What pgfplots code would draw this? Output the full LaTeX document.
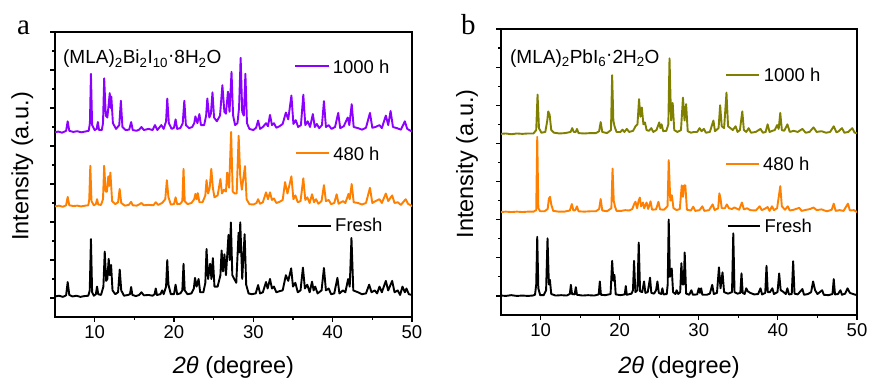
\documentclass[border=0pt]{standalone}
\usepackage{fontspec}
\setmainfont{Liberation Sans}
\newfontfamily\seriffont{Liberation Serif}
\usepackage{pgfplots}
\pgfplotsset{compat=1.18}
\definecolor{cpurple}{RGB}{140,0,255}
\definecolor{corange}{RGB}{255,128,0}
\definecolor{colive}{RGB}{128,128,0}
\newcommand\fs[1]{\fontsize{#1}{#1}\selectfont}
\pgfplotsset{
  xrdaxis/.style={
    scale only axis,
    xmin=5, xmax=50, ymin=-0.5, ymax=7,
    xtick={10,20,30,40,50}, minor x tick num=1,
    ytick={0,1,2,3,4,5,6,7}, minor y tick num=1, yticklabels={},
    tick pos=left, tick align=outside,
    major tick length=5pt, minor tick length=3pt,
    axis line style={line width=1.2pt},
    every tick/.style={black, line width=1.2pt},
    /pgf/number format/assume math mode=true,
    ticklabel style={font=\fs{18.5}},
    label style={font=\fs{23.5}},
    xlabel={{\itshape 2θ} (degree)},
    ylabel={Intensity (a.u.)},
  },
}
\tikzset{
  spec/.style={line width=1.9pt, line join=round, line cap=round},
  leg/.style={line width=2pt},
}
\begin{document}
\begin{tikzpicture}
\useasboundingbox (0pt,0pt) rectangle (869pt,379pt);
% ---------------- panel a ----------------
\begin{axis}[xrdaxis, at={(55pt,62pt)}, anchor=south west, width=357pt, height=285pt,
  xlabel style={at={(axis description cs:0.5,-0.198)}, anchor=base},
  ylabel style={at={(axis description cs:-0.0748,0.528)}, anchor=base}]
% Fresh
\addplot[black, spec] coordinates {(5,0.04) (5.5,0.06) (6.0,0.03) (6.4,0.07) (6.6,0.42) (6.8,0.08) (7.2,0.04) (7.7,0.06) (8.2,0.03) (8.7,0.05) (9.2,0.06) (9.38,0.2) (9.53,1.55) (9.68,0.15) (9.9,0.06) (10.15,0.1) (10.3,0.3) (10.45,0.1) (10.8,0.08) (11.1,0.3) (11.27,1.22) (11.45,0.45) (11.6,0.5) (11.77,1.03) (11.92,0.6) (12.07,0.87) (12.25,0.2) (12.6,0.1) (12.95,0.15) (13.16,0.75) (13.35,0.2) (13.7,0.06) (14.2,0.08) (14.45,0.1) (14.6,0.29) (14.75,0.08) (15.2,0.05) (15.6,0.08) (15.9,0.15) (16.2,0.07) (16.8,0.08) (17.3,0.06) (17.55,0.1) (17.7,0.25) (17.85,0.08) (18.3,0.1) (18.5,0.2) (18.7,0.1) (19.0,0.3) (19.15,1.0) (19.3,0.35) (19.6,0.1) (20.0,0.1) (20.2,0.35) (20.4,0.1) (20.8,0.12) (21.05,0.2) (21.2,0.9) (21.35,0.2) (21.7,0.1) (22.2,0.12) (22.5,0.25) (22.65,0.53) (22.85,0.3) (23.1,0.5) (23.3,0.15) (23.7,0.15) (23.95,0.4) (24.1,1.29) (24.3,0.5) (24.56,0.9) (24.72,0.5) (24.9,1.05) (25.1,0.3) (25.5,0.3) (25.85,0.6) (26.0,1.25) (26.18,0.7) (26.36,1.15) (26.55,0.6) (26.87,1.66) (27.02,1.0) (27.17,1.99) (27.35,0.6) (27.6,0.5) (27.85,0.4) (28.14,1.72) (28.25,1.2) (28.35,1.99) (28.6,0.5) (28.9,1.68) (29.1,0.35) (29.4,0.12) (29.8,0.1) (30.3,0.12) (30.6,0.34) (30.85,0.12) (31.2,0.15) (31.6,0.42) (31.8,0.25) (32.1,0.5) (32.35,0.25) (32.6,0.3) (32.9,0.15) (33.3,0.18) (33.7,0.2) (34.1,0.6) (34.4,0.45) (34.77,0.78) (35.0,0.3) (35.3,0.4) (35.6,0.15) (35.95,0.2) (36.25,0.8) (36.5,0.25) (36.8,0.35) (37.1,0.15) (37.4,0.43) (37.6,0.2) (37.8,0.3) (38.1,0.12) (38.6,0.2) (38.9,0.79) (39.15,0.2) (39.5,0.25) (39.8,0.1) (40.2,0.12) (40.6,0.53) (40.85,0.12) (41.3,0.2) (41.6,0.15) (41.95,0.5) (42.15,0.3) (42.37,1.58) (42.6,0.2) (43.2,0.15) (43.7,0.1) (44.2,0.12) (44.6,0.35) (44.9,0.15) (45.3,0.2) (45.6,0.12) (45.9,0.3) (46.2,0.15) (46.7,0.45) (47.0,0.2) (47.5,0.45) (47.8,0.15) (48.2,0.2) (48.5,0.08) (48.8,0.3) (49.1,0.15) (49.3,0.25) (49.6,0.1) (50,0.08)};
% 480 h
\addplot[corange, spec] coordinates {(5,2.41) (5.5,2.43) (6.0,2.4) (6.4,2.44) (6.6,2.66) (6.8,2.44) (7.3,2.42) (7.8,2.43) (8.3,2.41) (8.8,2.43) (9.2,2.44) (9.32,2.6) (9.45,3.48) (9.6,2.55) (9.9,2.44) (10.15,2.47) (10.3,2.6) (10.45,2.46) (10.8,2.45) (11.05,2.6) (11.2,3.48) (11.38,2.8) (11.55,2.8) (11.72,3.2) (11.85,2.95) (11.98,3.3) (12.2,2.55) (12.6,2.47) (12.95,2.52) (13.15,2.87) (13.35,2.5) (13.8,2.43) (14.3,2.45) (14.6,2.53) (14.8,2.44) (15.3,2.43) (15.6,2.46) (15.9,2.5) (16.2,2.44) (16.8,2.45) (17.4,2.44) (17.7,2.52) (18.0,2.45) (18.5,2.5) (18.9,2.6) (19.1,3.1) (19.3,2.65) (19.6,2.46) (20.0,2.47) (20.2,2.65) (20.4,2.47) (20.8,2.48) (21.05,2.55) (21.2,3.4) (21.35,2.55) (21.7,2.47) (22.2,2.5) (22.55,2.6) (22.7,2.74) (22.85,2.6) (23.0,2.76) (23.2,2.52) (23.6,2.52) (23.95,2.7) (24.1,3.1) (24.3,2.75) (24.5,2.9) (24.7,3.4) (24.9,2.9) (25.1,2.65) (25.5,2.7) (25.85,3.13) (26.05,2.75) (26.3,2.85) (26.55,2.8) (26.7,3.3) (26.95,2.9) (27.2,4.37) (27.4,2.8) (27.65,2.75) (27.9,2.75) (28.15,4.27) (28.35,3.2) (28.55,2.85) (28.95,3.47) (29.15,2.6) (29.5,2.47) (30.0,2.46) (30.4,2.5) (30.6,2.6) (30.85,2.48) (31.2,2.52) (31.6,2.78) (31.85,2.6) (32.1,2.78) (32.35,2.58) (32.6,2.62) (32.9,2.5) (33.3,2.53) (33.7,2.58) (34.0,3.05) (34.3,2.75) (34.8,3.2) (35.05,2.6) (35.3,2.7) (35.6,2.52) (35.95,2.55) (36.3,3.15) (36.55,2.58) (36.8,2.65) (37.1,2.5) (37.4,2.73) (37.65,2.52) (37.9,2.6) (38.2,2.48) (38.6,2.55) (38.9,2.97) (39.15,2.55) (39.5,2.58) (39.8,2.47) (40.2,2.5) (40.5,2.73) (40.75,2.48) (41.3,2.55) (41.6,2.5) (42.0,2.74) (42.15,2.6) (42.4,3.0) (42.65,2.52) (43.2,2.5) (43.7,2.46) (44.2,2.5) (44.7,2.9) (45.0,2.5) (45.4,2.55) (45.9,2.6) (46.2,2.5) (46.7,2.75) (47.0,2.55) (47.5,2.7) (47.8,2.5) (48.2,2.52) (48.6,2.45) (49.2,2.6) (49.5,2.48) (50,2.42)};
% 1000 h
\addplot[cpurple, spec] coordinates {(5,4.36) (5.4,4.38) (5.9,4.35) (6.4,4.4) (6.6,4.65) (6.8,4.4) (7.3,4.37) (7.8,4.39) (8.3,4.36) (8.8,4.38) (9.25,4.4) (9.4,4.6) (9.53,5.9) (9.68,4.55) (10.0,4.42) (10.25,4.45) (10.4,4.63) (10.55,4.42) (10.9,4.42) (11.05,4.6) (11.2,5.78) (11.4,4.8) (11.6,4.75) (11.9,5.39) (12.0,5.0) (12.1,5.3) (12.3,4.6) (12.7,4.45) (13.1,4.55) (13.3,5.19) (13.5,4.5) (13.9,4.42) (14.35,4.43) (14.6,4.63) (14.8,4.42) (15.3,4.4) (15.6,4.43) (15.9,4.5) (16.2,4.42) (16.8,4.45) (17.3,4.42) (17.6,4.55) (17.9,4.42) (18.4,4.55) (18.7,4.45) (19.0,4.65) (19.15,5.25) (19.35,4.6) (19.7,4.45) (20.0,4.48) (20.2,4.7) (20.4,4.45) (20.8,4.47) (21.1,4.6) (21.3,5.19) (21.5,4.55) (21.9,4.47) (22.3,4.5) (22.55,4.6) (22.7,4.78) (22.95,4.6) (23.2,4.84) (23.4,4.55) (23.8,4.55) (24.05,4.8) (24.2,5.25) (24.45,4.75) (24.65,4.85) (24.85,5.41) (25.05,4.75) (25.4,4.65) (25.8,4.8) (26.1,5.6) (26.35,4.9) (26.55,4.85) (26.8,5.43) (27.0,4.9) (27.25,5.95) (27.45,4.8) (27.7,4.55) (28.0,4.6) (28.2,5.0) (28.4,6.32) (28.6,4.9) (28.8,4.8) (29.0,5.9) (29.2,4.6) (29.5,4.45) (30.0,4.42) (30.35,4.48) (30.6,4.67) (30.85,4.45) (31.2,4.5) (31.6,4.6) (31.85,4.52) (32.1,4.82) (32.35,4.55) (32.6,4.6) (32.9,4.48) (33.3,4.52) (33.7,4.58) (34.1,4.88) (34.4,4.7) (34.8,5.33) (35.05,4.58) (35.35,4.68) (35.65,4.5) (36.0,4.55) (36.3,5.35) (36.55,4.55) (36.85,4.65) (37.15,4.5) (37.5,4.84) (37.75,4.5) (38.0,4.58) (38.3,4.47) (38.65,4.55) (38.9,5.18) (39.15,4.5) (39.5,4.55) (39.85,4.45) (40.3,4.5) (40.7,4.87) (40.95,4.47) (41.4,4.52) (41.9,4.75) (42.1,4.55) (42.4,5.1) (42.65,4.5) (43.2,4.47) (43.7,4.43) (44.2,4.48) (44.7,4.87) (45.0,4.48) (45.4,4.5) (45.9,4.55) (46.2,4.47) (46.7,4.8) (47.0,4.55) (47.3,4.92) (47.6,4.5) (48.1,4.47) (48.6,4.43) (49.1,4.65) (49.4,4.45) (50,4.38)};
\draw[cpurple, leg] (axis cs:35.3,6.11) -- (axis cs:39.5,6.11);
\node[anchor=base west, inner sep=0pt, font=\fs{18.5}] at (axis cs:40.0,5.9) {1000 h};
\draw[corange, leg] (axis cs:35.4,3.82) -- (axis cs:39.6,3.82);
\node[anchor=base west, inner sep=0pt, font=\fs{18.5}] at (axis cs:40.05,3.61) {480 h};
\draw[black, leg] (axis cs:35.65,1.9) -- (axis cs:39.75,1.9);
\node[anchor=base west, inner sep=0pt, font=\fs{18.5}] at (axis cs:40.3,1.74) {Fresh};
\node[anchor=base west, inner sep=0pt, font=\fs{19}] at (axis cs:6.0,6.16) {(MLA)\textsubscript{2}Bi\textsubscript{2}I\textsubscript{10}\raisebox{0.25ex}{·}8H\textsubscript{2}O};
\end{axis}
% ---------------- panel b ----------------
\begin{axis}[xrdaxis, at={(501pt,64pt)}, anchor=south west, width=356pt, height=286pt,
  xlabel style={at={(axis description cs:0.5,-0.204)}, anchor=base},
  ylabel style={at={(axis description cs:-0.078,0.528)}, anchor=base}]
% Fresh
\addplot[black, spec] coordinates {(5,0.01) (5.6,0.0) (6.3,0.02) (7.0,0.0) (7.7,0.01) (8.4,0.0) (9.0,0.01) (9.3,0.03) (9.45,0.3) (9.58,1.55) (9.72,0.2) (9.95,0.02) (10.4,0.02) (10.7,0.15) (10.88,1.51) (11.05,0.3) (11.18,0.42) (11.35,0.05) (11.9,0.01) (12.6,0.02) (13.3,0.01) (13.7,0.05) (13.83,0.29) (13.98,0.05) (14.3,0.04) (14.46,0.23) (14.6,0.03) (15.3,0.01) (16.0,0.02) (16.8,0.01) (17.35,0.04) (17.49,0.38) (17.63,0.03) (18.2,0.02) (18.85,0.05) (19.05,0.92) (19.2,0.4) (19.34,0.55) (19.5,0.04) (20.1,0.02) (20.65,0.04) (20.77,0.26) (20.9,0.03) (21.5,0.06) (21.68,0.15) (21.82,0.92) (21.98,0.1) (22.25,0.15) (22.41,1.4) (22.58,0.12) (22.85,0.1) (23.08,0.38) (23.25,0.08) (23.55,0.1) (23.84,0.48) (24.0,0.08) (24.35,0.06) (24.6,0.15) (24.77,0.38) (24.95,0.08) (25.25,0.05) (25.4,0.2) (25.55,0.04) (25.95,0.05) (26.07,0.3) (26.2,2.0) (26.35,0.5) (26.58,0.72) (26.75,0.1) (27.05,0.05) (27.2,0.15) (27.4,0.05) (27.65,0.1) (27.8,0.86) (27.95,0.3) (28.1,0.3) (28.22,1.14) (28.4,0.06) (28.8,0.03) (29.06,0.15) (29.25,0.03) (29.8,0.04) (30.0,0.2) (30.15,0.08) (30.3,0.2) (30.45,0.03) (31.0,0.03) (31.4,0.06) (31.7,0.29) (31.9,0.05) (32.3,0.08) (32.55,0.75) (32.75,0.2) (33.0,0.62) (33.2,0.1) (33.7,0.06) (34.2,0.1) (34.36,1.64) (34.52,0.1) (34.9,0.06) (35.25,0.08) (35.4,0.59) (35.55,0.08) (35.8,0.05) (36.0,0.2) (36.2,0.12) (36.5,0.08) (37.0,0.04) (37.5,0.05) (37.8,0.2) (38.0,0.04) (38.4,0.08) (38.56,0.79) (38.72,0.1) (39.0,0.1) (39.3,0.2) (39.5,0.05) (39.95,0.1) (40.16,0.59) (40.35,0.15) (40.6,0.12) (41.0,0.05) (41.2,0.2) (41.4,0.04) (41.75,0.05) (41.93,0.91) (42.1,0.06) (42.5,0.04) (43.1,0.18) (43.3,0.03) (43.8,0.05) (44.2,0.1) (44.45,0.38) (44.7,0.15) (45.0,0.05) (45.6,0.15) (45.8,0.03) (46.4,0.02) (46.9,0.05) (47.06,0.44) (47.22,0.04) (47.6,0.05) (47.9,0.15) (48.1,0.03) (48.5,0.06) (48.8,0.2) (49.1,0.08) (49.5,0.05) (50,0.02)};
% 480 h
\addplot[corange, spec] coordinates {(5,2.2) (5.6,2.21) (6.3,2.2) (7.0,2.21) (7.7,2.2) (8.4,2.21) (9.1,2.21) (9.45,2.25) (9.58,4.17) (9.72,2.3) (9.95,2.22) (10.5,2.22) (10.9,2.28) (11.05,2.55) (11.2,2.6) (11.35,2.4) (11.6,2.23) (12.3,2.21) (13.0,2.21) (13.7,2.24) (13.95,2.41) (14.15,2.24) (14.4,2.25) (14.6,2.35) (14.8,2.22) (15.5,2.21) (16.3,2.22) (17.0,2.22) (17.4,2.28) (17.6,2.54) (17.8,2.24) (18.4,2.22) (18.95,2.3) (19.1,3.34) (19.25,2.5) (19.4,2.35) (19.6,2.23) (20.2,2.23) (20.7,2.25) (21.2,2.24) (21.6,2.28) (21.85,2.42) (22.0,2.47) (22.2,2.3) (22.4,2.5) (22.55,2.58) (22.7,2.35) (22.95,2.45) (23.1,2.3) (23.4,2.45) (23.6,2.28) (23.9,2.48) (24.1,2.26) (24.6,2.27) (24.9,2.47) (25.1,2.27) (25.6,2.26) (26.05,2.35) (26.2,3.56) (26.4,2.5) (26.6,2.64) (26.8,2.3) (27.2,2.25) (27.6,2.28) (27.85,2.9) (28.0,2.6) (28.15,2.9) (28.3,2.9) (28.5,2.26) (29.0,2.24) (29.3,2.34) (29.55,2.23) (30.1,2.25) (30.45,2.35) (30.7,2.23) (31.3,2.25) (31.75,2.4) (32.0,2.25) (32.45,2.3) (32.6,2.69) (32.75,2.55) (32.9,2.3) (33.3,2.3) (33.55,2.4) (33.8,2.3) (34.2,2.28) (34.5,2.32) (35.1,2.26) (35.45,2.45) (35.7,2.27) (36.1,2.3) (36.5,2.25) (37.2,2.24) (37.7,2.35) (37.95,2.25) (38.3,2.28) (38.7,2.33) (38.95,2.23) (39.25,2.35) (39.5,2.25) (39.9,2.3) (40.3,2.88) (40.5,2.35) (40.9,2.26) (41.25,2.35) (41.5,2.24) (42.0,2.26) (42.7,2.31) (43.0,2.23) (43.6,2.26) (44.1,2.28) (44.5,2.32) (44.9,2.25) (45.5,2.27) (46.2,2.22) (46.8,2.26) (47.06,2.42) (47.3,2.23) (47.8,2.25) (48.3,2.23) (48.85,2.42) (49.1,2.24) (49.6,2.25) (50,2.2)};
% 1000 h
\addplot[colive, spec] coordinates {(5,4.25) (5.6,4.26) (6.3,4.24) (7.0,4.26) (7.7,4.25) (8.4,4.26) (9.1,4.26) (9.45,4.35) (9.62,5.28) (9.8,4.4) (10.1,4.28) (10.6,4.3) (10.85,4.6) (10.97,4.84) (11.15,4.75) (11.35,4.35) (11.7,4.28) (12.4,4.26) (13.1,4.27) (13.8,4.3) (14.0,4.4) (14.2,4.3) (14.45,4.3) (14.6,4.38) (14.8,4.27) (15.5,4.26) (16.3,4.27) (17.0,4.27) (17.4,4.32) (17.6,4.56) (17.8,4.3) (18.4,4.27) (18.9,4.35) (19.05,5.79) (19.2,4.6) (19.35,4.45) (19.6,4.3) (20.1,4.3) (20.35,4.36) (20.6,4.3) (20.9,4.38) (21.2,4.3) (21.7,4.33) (22.0,4.45) (22.25,4.5) (22.45,5.16) (22.62,4.7) (22.8,4.94) (23.0,4.5) (23.2,4.55) (23.4,4.35) (23.7,4.33) (24.0,4.4) (24.25,4.3) (24.65,4.35) (25.0,4.55) (25.15,4.4) (25.3,4.5) (25.5,4.32) (25.9,4.33) (26.15,4.5) (26.3,6.23) (26.5,4.6) (26.7,5.06) (26.9,4.35) (27.3,4.3) (27.75,4.35) (28.0,5.2) (28.2,4.6) (28.4,5.03) (28.6,4.32) (29.0,4.28) (29.4,4.3) (29.8,4.3) (30.1,4.4) (30.35,4.32) (30.65,4.38) (30.9,4.28) (31.4,4.3) (31.85,4.6) (32.05,4.32) (32.5,4.4) (32.7,5.0) (32.9,4.45) (33.2,4.4) (33.5,5.33) (33.7,4.45) (34.0,4.4) (34.3,4.35) (34.65,4.45) (34.9,4.3) (35.2,4.35) (35.5,4.84) (35.7,4.35) (36.0,4.3) (36.3,4.4) (36.6,4.28) (37.2,4.3) (37.8,4.38) (38.1,4.28) (38.45,4.3) (38.7,4.5) (38.95,4.3) (39.3,4.33) (39.6,4.35) (39.9,4.48) (40.1,4.38) (40.3,4.8) (40.5,4.35) (40.8,4.33) (41.2,4.5) (41.5,4.3) (42.0,4.33) (42.5,4.3) (43.1,4.38) (43.5,4.28) (44.0,4.3) (44.5,4.42) (44.9,4.3) (45.5,4.32) (46.1,4.28) (46.6,4.3) (47.06,4.45) (47.4,4.29) (47.7,4.32) (48.1,4.4) (48.4,4.28) (48.9,4.3) (49.4,4.4) (49.7,4.28) (50,4.27)};
\draw[colive, leg] (axis cs:33.5,5.79) -- (axis cs:37.55,5.79);
\node[anchor=base west, inner sep=0pt, font=\fs{18.5}] at (axis cs:38.2,5.61) {1000 h};
\draw[corange, leg] (axis cs:33.5,3.47) -- (axis cs:37.55,3.47);
\node[anchor=base west, inner sep=0pt, font=\fs{18.5}] at (axis cs:38.1,3.3) {480 h};
\draw[black, leg] (axis cs:33.65,1.83) -- (axis cs:37.7,1.83);
\node[anchor=base west, inner sep=0pt, font=\fs{18.5}] at (axis cs:38.3,1.66) {Fresh};
\node[anchor=base west, inner sep=0pt, font=\fs{19}] at (axis cs:6.13,6.1) {(MLA)\textsubscript{2}PbI\textsubscript{6}\raisebox{0.25ex}{·}2H\textsubscript{2}O};
\end{axis}
\node[anchor=base west, inner sep=0pt, font=\seriffont\fs{29}] at (17pt,344pt) {a};
\node[anchor=base west, inner sep=0pt, font=\seriffont\fs{29}] at (461pt,344pt) {b};
\end{tikzpicture}
\end{document}
